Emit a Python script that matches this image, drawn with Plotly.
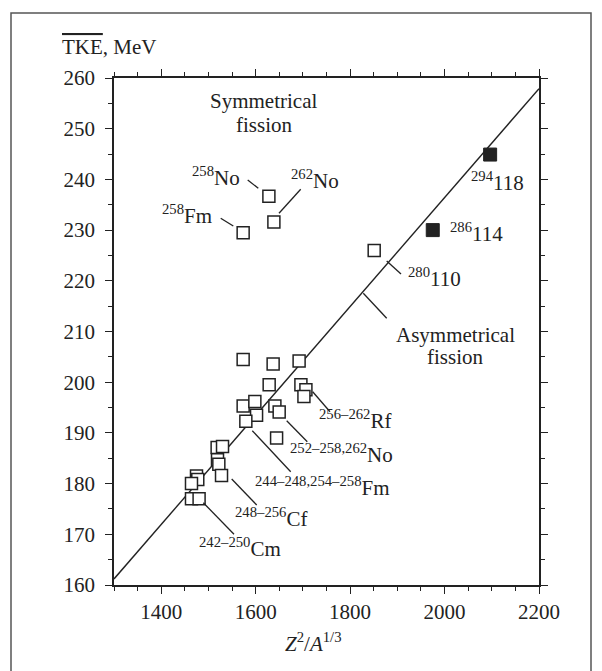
import plotly.graph_objects as go

# open squares (measured points), Z^2/A^(1/3) vs mean TKE
open_x = [1628, 1638.6, 1573.5, 1851,
          1573.5, 1637, 1692, 1628.6, 1695.8, 1706.4, 1702.2,
          1573.5, 1598.3, 1640.7, 1649.8, 1601.9, 1579.2, 1644.3,
          1518.4, 1529.8, 1519.2, 1522, 1527.7,
          1474.7, 1477.4, 1464.1, 1464.1, 1480.2]
open_y = [236.7, 231.6, 229.5, 226.0,
          204.5, 203.6, 204.2, 199.5, 199.5, 198.5, 197.2,
          195.3, 196.2, 195.3, 194.1, 193.5, 192.3, 189.0,
          187.1, 187.3, 184.7, 183.8, 181.6,
          181.5, 180.8, 180.0, 177.0, 177.0]

# filled squares (superheavy nuclei)
filled_x = [1975, 2096.5]
filled_y = [230.0, 244.9]

# systematics line
fit_x = [1300, 2200]
fit_y = [161.2, 257.9]

ink = "#222222"
font = "Liberation Serif"

# plot area in screen pixels; the page body adds an 8px offset
L, R, T, B = 114, 539, 78, 585
PAGE_OFF = 8
def dx(px):
    return 1300 + (px - L) / (R - L) * 900
def dy(py):
    return 260 - (py - T) / (B - T) * 100
def px_(px):
    return (px - L) / (R - L)
def py_(py):
    return (B - py) / (B - T)

fig = go.Figure()
fig.add_trace(go.Scatter(x=fit_x, y=fit_y, mode="lines",
                         line=dict(color=ink, width=1.4), showlegend=False))
fig.add_trace(go.Scatter(x=open_x, y=open_y, mode="markers",
                         marker=dict(symbol="square", size=12, color="white",
                                     line=dict(color=ink, width=1.5)),
                         showlegend=False))
fig.add_trace(go.Scatter(x=filled_x, y=filled_y, mode="markers",
                         marker=dict(symbol="square", size=13, color=ink,
                                     line=dict(color=ink, width=1)),
                         showlegend=False))

# leader lines (pixel positions)
leaders = [
    ((247.7, 180), (258.3, 188.3)),
    ((300.7, 189.3), (279, 213.3)),
    ((220.7, 218.3), (233.3, 226)),
    ((386.7, 261), (401, 274)),
    ((363.3, 293.3), (386.7, 318.3)),
    ((312.7, 391.7), (330, 411.7)),
    ((286.7, 420.7), (307.3, 441.7)),
    ((252.3, 430.7), (290.7, 471.7)),
    ((231.7, 479), (256.7, 505)),
    ((203.3, 502.7), (234, 534.3)),
]
shapes = []
for (x0, y0), (x1, y1) in leaders:
    shapes.append(dict(type="line", xref="x", yref="y",
                       x0=dx(x0), y0=dy(y0), x1=dx(x1), y1=dy(y1),
                       line=dict(color=ink, width=1.3)))
# outer frame
shapes.append(dict(type="rect", xref="paper", yref="paper",
                   x0=px_(11), x1=px_(591), y0=py_(700), y1=py_(13),
                   line=dict(color="#555555", width=1.5)))

labels = [
    ("Symmetrical", 263, 101, "center"),
    ("fission", 264, 125, "center"),
    ("Asymmetrical", 455, 335, "center"),
    ("fission", 455, 357, "center"),
    ("<sup>258</sup>No", 242, 176, "right"),
    ("<sup>262</sup>No", 289, 179, "left"),
    ("<sup>258</sup>Fm", 214, 214, "right"),
    ("<sup>294</sup>118", 469, 181, "left"),
    ("<sup>286</sup>114", 448, 232, "left"),
    ("<sup>280</sup>110", 406, 277, "left"),
    ("<sup>256–262</sup>Rf", 317, 419, "left"),
    ("<sup>252–258,262</sup>No", 288, 453, "left"),
    ("<sup>244–248,254–258</sup>Fm", 253, 486, "left"),
    ("<sup>248–256</sup>Cf", 233, 517, "left"),
    ("<sup>242–250</sup>Cm", 197, 547, "left"),
]
annotations = []
for text, x, y, anchor in labels:
    annotations.append(dict(text=text, x=dx(x), y=dy(y), xref="x", yref="y",
                            xanchor=anchor, yanchor="middle", showarrow=False,
                            font=dict(family=font, size=21, color=ink)))
annotations.append(dict(text='<span style="text-decoration:overline">TKE</span>, MeV',
                        x=px_(60), y=py_(47), xref="paper", yref="paper",
                        xanchor="left", yanchor="middle", showarrow=False,
                        font=dict(family=font, size=21, color=ink)))
annotations.append(dict(text="<i>Z</i><sup>2</sup>/<i>A</i><sup>1/3</sup>",
                        x=px_(313), y=py_(642), xref="paper", yref="paper",
                        xanchor="center", yanchor="middle", showarrow=False,
                        font=dict(family=font, size=21, color=ink)))

axis_common = dict(showline=True, linecolor=ink, linewidth=1.5, mirror="ticks",
                   ticks="outside", tickcolor=ink, tickwidth=1.3, ticklen=7,
                   showgrid=False, zeroline=False,
                   tickfont=dict(family=font, size=21, color=ink))

fig.update_layout(
    width=602, height=671,
    margin=dict(l=L - PAGE_OFF, r=602 - R + PAGE_OFF,
                t=T - PAGE_OFF, b=671 - B + PAGE_OFF),
    paper_bgcolor="white", plot_bgcolor="white",
    xaxis=dict(range=[1300, 2200], tickvals=[1400, 1600, 1800, 2000, 2200],
               minor=dict(dtick=50, tick0=1300, ticklen=4, tickcolor=ink, ticks="outside"),
               **axis_common),
    yaxis=dict(range=[160, 260], dtick=10, tick0=160, ticklabelstandoff=6,
               minor=dict(dtick=5, tick0=160, ticklen=4, tickcolor=ink, ticks="outside"),
               **axis_common),
    shapes=shapes,
    annotations=annotations,
)

fig.write_html("out.html")
